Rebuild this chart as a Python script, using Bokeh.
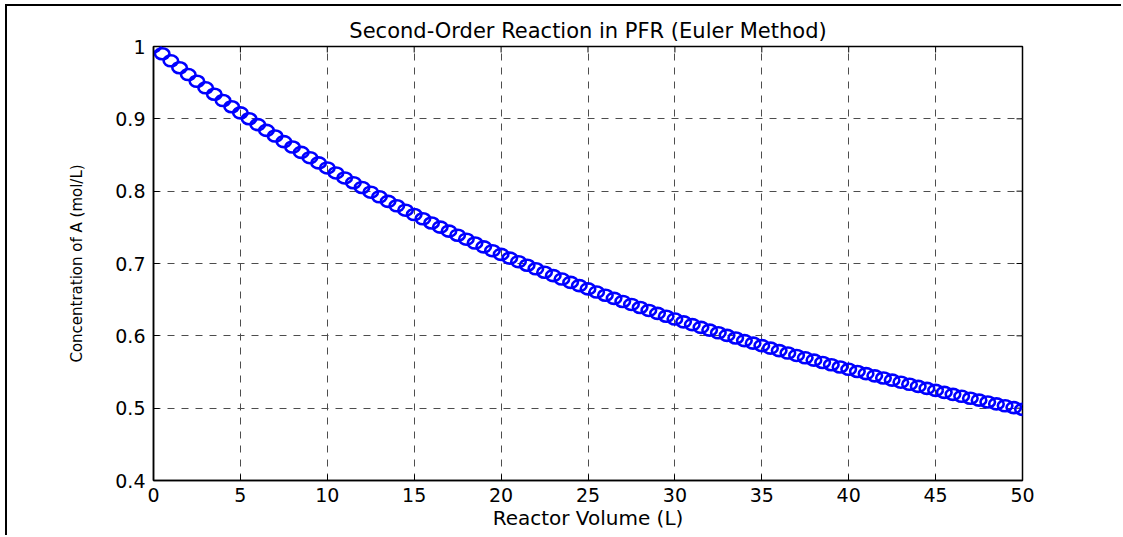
from bokeh.plotting import figure
from bokeh.models import FixedTicker, Range1d
from bokeh.embed import file_html
from bokeh.resources import INLINE

# ---------------- data ----------------
title_text = "Second-Order Reaction in PFR (Euler Method)"
x_label = "Reactor Volume (L)"
y_label = "Concentration of A (mol/L)"

reactor_volume = [
    0, 0.5, 1, 1.5, 2, 2.5, 3, 3.5, 4, 4.5,
    5, 5.5, 6, 6.5, 7, 7.5, 8, 8.5, 9, 9.5,
    10, 10.5, 11, 11.5, 12, 12.5, 13, 13.5, 14, 14.5,
    15, 15.5, 16, 16.5, 17, 17.5, 18, 18.5, 19, 19.5,
    20, 20.5, 21, 21.5, 22, 22.5, 23, 23.5, 24, 24.5,
    25, 25.5, 26, 26.5, 27, 27.5, 28, 28.5, 29, 29.5,
    30, 30.5, 31, 31.5, 32, 32.5, 33, 33.5, 34, 34.5,
    35, 35.5, 36, 36.5, 37, 37.5, 38, 38.5, 39, 39.5,
    40, 40.5, 41, 41.5, 42, 42.5, 43, 43.5, 44, 44.5,
    45, 45.5, 46, 46.5, 47, 47.5, 48, 48.5, 49, 49.5,
    50,
]

concentration_A = [
    1.0000, 0.9900, 0.9802, 0.9706, 0.9612, 0.9519, 0.9429, 0.9340, 0.9253, 0.9167,
    0.9083, 0.9001, 0.8920, 0.8840, 0.8762, 0.8685, 0.8610, 0.8536, 0.8463, 0.8391,
    0.8321, 0.8252, 0.8183, 0.8117, 0.8051, 0.7986, 0.7922, 0.7859, 0.7798, 0.7737,
    0.7677, 0.7618, 0.7560, 0.7503, 0.7447, 0.7391, 0.7336, 0.7283, 0.7230, 0.7177,
    0.7126, 0.7075, 0.7025, 0.6976, 0.6927, 0.6879, 0.6832, 0.6785, 0.6739, 0.6694,
    0.6649, 0.6605, 0.6561, 0.6518, 0.6475, 0.6434, 0.6392, 0.6351, 0.6311, 0.6271,
    0.6232, 0.6193, 0.6155, 0.6117, 0.6079, 0.6042, 0.6006, 0.5970, 0.5934, 0.5899,
    0.5864, 0.5830, 0.5796, 0.5762, 0.5729, 0.5696, 0.5664, 0.5632, 0.5600, 0.5569,
    0.5537, 0.5507, 0.5477, 0.5447, 0.5417, 0.5388, 0.5359, 0.5330, 0.5301, 0.5273,
    0.5246, 0.5218, 0.5191, 0.5164, 0.5137, 0.5111, 0.5085, 0.5059, 0.5033, 0.5008,
    0.4983,
]

x_ticks = [0, 5, 10, 15, 20, 25, 30, 35, 40, 45, 50]
y_ticks = [0.4, 0.5, 0.6, 0.7, 0.8, 0.9, 1.0]
y_tick_labels = ["0.4", "0.5", "0.6", "0.7", "0.8", "0.9", "1"]

# ---------------- styling ----------------
FONT = "DejaVu Sans"
GRID = "#4d4d4d"
X_MIN, X_MAX = 0, 50
Y_MIN, Y_MAX = 0.4, 1.0
FRAME_W, FRAME_H = 869, 434
TICK_PX = 6

p = figure(
    width=1116, height=531,
    output_backend="svg", toolbar_location=None,
    x_range=Range1d(X_MIN, X_MAX), y_range=Range1d(Y_MIN, Y_MAX),
    min_border_left=146, min_border_right=101,
    min_border_top=40, min_border_bottom=57,
    title=title_text,
)
p.styles = {
    "margin-left": "5px", "margin-top": "4px",
    "border-left": "2px solid black", "border-top": "2px solid black",
}
p.background_fill_color = "white"
p.border_fill_color = "white"
p.outline_line_color = "black"
p.outline_line_width = 1.5

p.title.align = "center"
p.title.text_font = FONT
p.title.text_font_size = "21px"
p.title.text_font_style = "normal"
p.title.text_color = "black"
p.title.standoff = 8

def style_axis(ax):
    ax.major_tick_in = TICK_PX
    ax.major_tick_out = 0
    ax.minor_tick_in = 0
    ax.minor_tick_out = 0
    ax.axis_line_color = "black"
    ax.axis_line_width = 1.5
    ax.major_tick_line_color = "black"
    ax.major_tick_line_width = 1
    ax.major_label_text_font = FONT
    ax.major_label_text_font_size = "19px"
    ax.major_label_text_color = "black"
    ax.axis_label_text_font = FONT
    ax.axis_label_text_font_style = "normal"
    ax.axis_label_text_color = "black"

xa = p.xaxis[0]
xa.ticker = FixedTicker(ticks=x_ticks)
style_axis(xa)
xa.axis_label = x_label
xa.axis_label_text_font_size = "20px"
xa.major_label_standoff = 7
xa.axis_label_standoff = 1

ya = p.yaxis[0]
ya.ticker = FixedTicker(ticks=y_ticks)
style_axis(ya)
ya.major_label_overrides = dict(zip(y_ticks, y_tick_labels))
ya.axis_label = y_label
ya.axis_label_text_font_size = "15px"
ya.major_label_standoff = 8
ya.axis_label_standoff = 26

# inward ticks on the top and right edges of the box (MATLAB "box on")
dy = TICK_PX * (Y_MAX - Y_MIN) / FRAME_H
dx = TICK_PX * (X_MAX - X_MIN) / FRAME_W
p.segment(x0=x_ticks, y0=[Y_MAX] * len(x_ticks), x1=x_ticks, y1=[Y_MAX - dy] * len(x_ticks),
          line_color="black", line_width=1)
p.segment(x0=[X_MAX] * len(y_ticks), y0=y_ticks, x1=[X_MAX - dx] * len(y_ticks), y1=y_ticks,
          line_color="black", line_width=1)

p.xgrid.ticker = FixedTicker(ticks=x_ticks)
p.ygrid.ticker = FixedTicker(ticks=y_ticks)
for g in (p.xgrid[0], p.ygrid[0]):
    g.grid_line_color = GRID
    g.grid_line_width = 1
    g.grid_line_dash = "7 7"

p.ellipse(
    x=reactor_volume, y=concentration_A,
    width=14.5, height=11, width_units="screen", height_units="screen",
    fill_color=None, line_color="#0000ff", line_width=2.6,
)

open("out.html", "w").write(file_html(p, INLINE))
